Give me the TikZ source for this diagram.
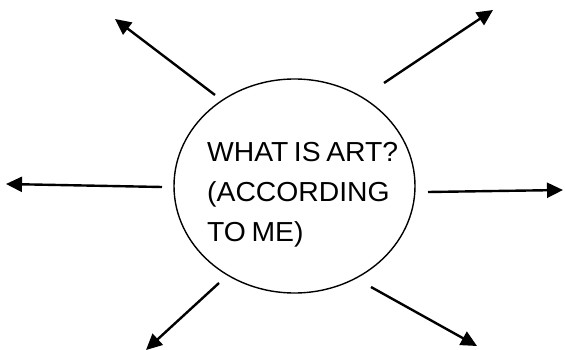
\documentclass[tikz,border=0pt]{standalone}
\usepackage{fontspec}
\setmainfont[WordSpace=0.7,FakeStretch=1.03]{Liberation Sans}
\usetikzlibrary{shapes.geometric,arrows.meta}
\tikzset{
  bubble/.style={ellipse, draw, line width=1.4pt, minimum width=241pt, minimum height=214pt, inner sep=0pt},
  label/.style={anchor=base west, inner sep=0pt, font=\fontsize{27.5}{33}\selectfont},
  ray/.style={line width=2.4pt, -{Triangle[length=16pt,width=15pt]}}
}
\begin{document}
\begin{tikzpicture}[x=1pt,y=-1pt]
\useasboundingbox (0,0) rectangle (565,350);
\node[bubble] (c) at (294.5,186) {};
\node[label] (t1) at (207,161) {WHAT IS ART?};
\node[label] (t2) at (207,201) {(ACCORDING};
\node[label] (t3) at (207,241) {TO ME)};
\coordinate (s1) at (215,95);  \coordinate (e1) at (115,19);
\coordinate (s2) at (384,83);  \coordinate (e2) at (493,10);
\coordinate (s3) at (162,187); \coordinate (e3) at (6,184);
\coordinate (s4) at (428,192); \coordinate (e4) at (563,190);
\coordinate (s5) at (219,283); \coordinate (e5) at (146,350);
\coordinate (s6) at (371,287); \coordinate (e6) at (477,346);
\draw[ray] (s1) -- (e1);
\draw[ray] (s2) -- (e2);
\draw[ray] (s3) -- (e3);
\draw[ray] (s4) -- (e4);
\draw[ray] (s5) -- (e5);
\draw[ray] (s6) -- (e6);
\end{tikzpicture}
\end{document}
